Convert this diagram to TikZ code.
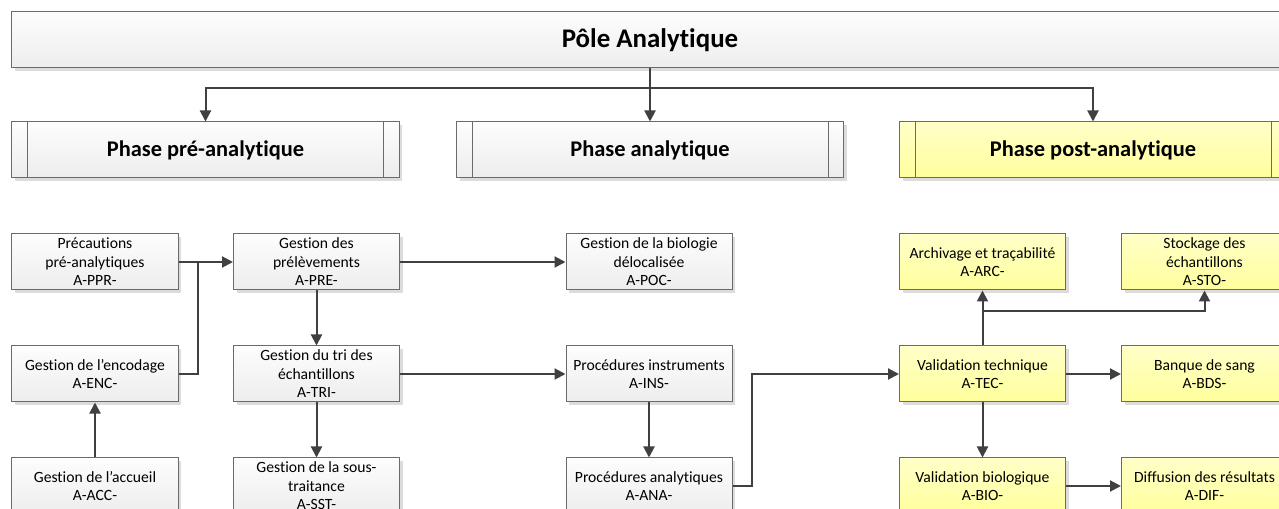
\documentclass[tikz,border=0pt]{standalone}
\usepackage{fontspec}
\setmainfont{Carlito}[Ligatures={TeX,CommonOff}]
\usetikzlibrary{shadows,arrows.meta,calc}
\definecolor{bord}{HTML}{6B6B6B}
\definecolor{linec}{HTML}{404040}
\definecolor{gtop}{HTML}{FDFDFD}
\definecolor{gbot}{HTML}{EDEDED}
\definecolor{ytop}{HTML}{FFFFC8}
\definecolor{ybot}{HTML}{FFFF9C}
\definecolor{shad}{HTML}{DCDCDC}
\tikzset{
 base/.style={draw=bord, line width=1bp, inner sep=0pt, align=center,
   drop shadow={shadow xshift=3bp,shadow yshift=-3bp,fill=shad,opacity=1}},
 greyfill/.style={top color=gtop,bottom color=gbot},
 yelfill/.style={top color=ytop,bottom color=ybot},
 topbar/.style={base,greyfill,minimum width=1276bp,minimum height=56bp,
   font=\bfseries\fontsize{27}{32}\selectfont},
 phasebox/.style={base,minimum width=387bp,minimum height=56bp,
   font=\bfseries\fontsize{22.5}{27}\selectfont},
 procbox/.style={base,minimum width=166bp,minimum height=56bp,
   font=\fontsize{15.7}{18.5}\selectfont},
 arr/.style={draw=linec,line width=2bp,-{Triangle[length=11bp,width=11bp]}},
 conn/.style={draw=linec,line width=2bp},
 inner/.style={draw=bord,line width=1bp},
}
\begin{document}
\begin{tikzpicture}[x=1bp,y=-1bp]
\useasboundingbox (0,0) rectangle (1279,509);
\clip (0,0) rectangle (1279,509);
\fill[white] (0,0) rectangle (1279,509);

\node[topbar] (top) at (650,40) {Pôle Analytique};

\node[phasebox,greyfill] (pre) at (205.5,150) {Phase pré-analytique};
\node[phasebox,greyfill] (ana) at (650,150) {Phase analytique};
\node[phasebox,yelfill] (post) at (1093,150) {Phase post-analytique};
\foreach \n in {pre,ana,post}{
  \draw[inner] ($(\n.north west)+(16,0)$) -- ($(\n.south west)+(16,0)$);
  \draw[inner] ($(\n.north east)+(-16,0)$) -- ($(\n.south east)+(-16,0)$);
}

% column 1
\node[procbox,greyfill] (ppr) at (95,262) {Précautions\\pré-analytiques\\A-PPR-};
\node[procbox,greyfill] (enc) at (95,374) {Gestion de l’encodage\\A-ENC-};
\node[procbox,greyfill] (acc) at (95,486) {Gestion de l’accueil\\A-ACC-};
% column 2
\node[procbox,greyfill] (prl) at (316.5,262) {Gestion des\\prélèvements\\A-PRE-};
\node[procbox,greyfill] (tri) at (316.5,374) {Gestion du tri des\\échantillons\\A-TRI-};
\node[procbox,greyfill] (sst) at (316.5,486) {Gestion de la sous-\\traitance\\A-SST-};
% column 3
\node[procbox,greyfill] (poc) at (649,262) {Gestion de la biologie\\délocalisée\\A-POC-};
\node[procbox,greyfill] (ins) at (649,374) {Procédures instruments\\A-INS-};
\node[procbox,greyfill] (anl) at (649,486) {Procédures analytiques\\A-ANA-};
% column 4
\node[procbox,yelfill] (arc) at (982.5,262) {Archivage et traçabilité\\A-ARC-};
\node[procbox,yelfill] (tec) at (982.5,374) {Validation technique\\A-TEC-};
\node[procbox,yelfill] (bio) at (982.5,486) {Validation biologique\\A-BIO-};
% column 5
\node[procbox,yelfill] (sto) at (1204.5,262) {Stockage des\\échantillons\\A-STO-};
\node[procbox,yelfill] (bds) at (1204.5,374) {Banque de sang\\A-BDS-};
\node[procbox,yelfill] (dif) at (1204.5,486) {Diffusion des résultats\\A-DIF-};

% top connectors
\coordinate (j0) at (650,88);
\draw[conn] (top.south) -- (j0);
\draw[arr] (j0) -| (pre.north);
\draw[arr] (j0) -| (post.north);
\draw[arr] (j0) -- (ana.north);

% pre-analytic
\coordinate (j1) at (198,262);
\draw[arr] (ppr.east) -- (prl.west);
\draw[conn] (enc.east) -| (j1);
\draw[arr] (acc.north) -- (enc.south);
\draw[arr] (prl.east) -- (poc.west);
\draw[arr] (prl.south) -- (tri.north);
\draw[arr] (tri.east) -- (ins.west);
\draw[arr] (tri.south) -- (sst.north);
\draw[arr] (ins.south) -- (anl.north);

% analytic to post
\coordinate (j3) at (752,486);
\draw[arr] (anl.east) -- (j3) |- (tec.west);

% post-analytic
\coordinate (j2) at (982.5,311);
\draw[arr] (tec.north) -- (arc.south);
\draw[arr] (j2) -| (sto.south);
\draw[arr] (tec.east) -- (bds.west);
\draw[arr] (tec.south) -- (bio.north);
\draw[arr] (bio.east) -- (dif.west);
\end{tikzpicture}
\end{document}
